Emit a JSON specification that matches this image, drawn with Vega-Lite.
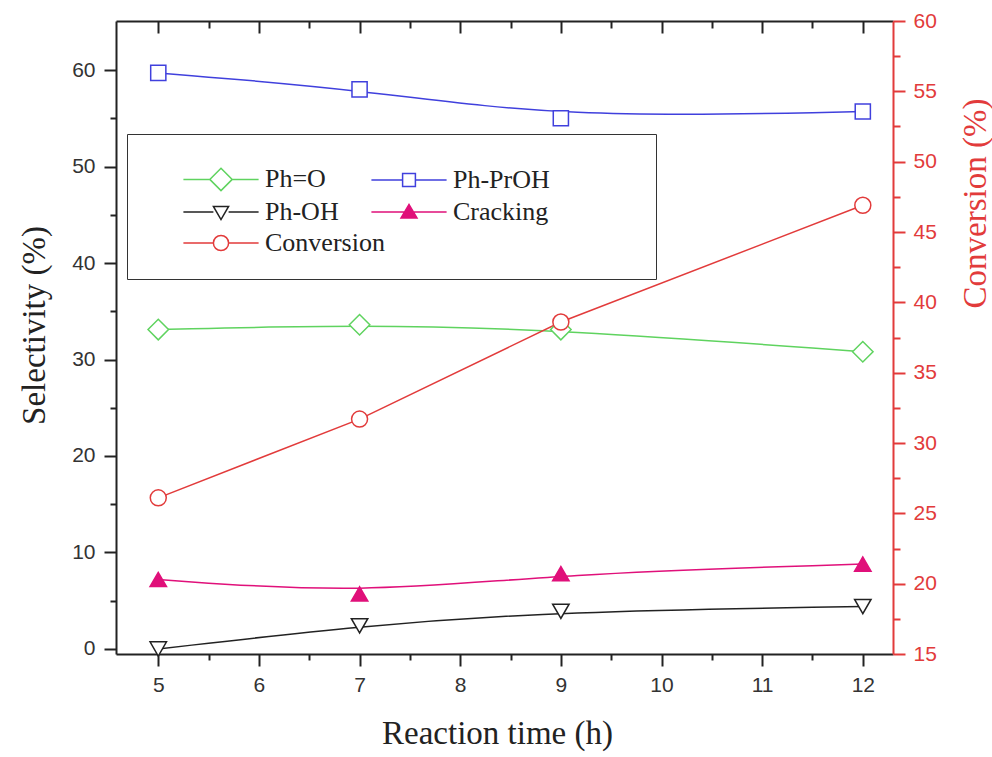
{
  "$schema": "https://vega.github.io/schema/vega-lite/v6.json",
  "width": 777,
  "height": 633,
  "autosize": {"type": "none"},
  "padding": {"left": 116, "top": 21, "right": 99, "bottom": 103},
  "background": "white",
  "config": {
    "view": {"stroke": null},
    "legend": {"labelFont": "Liberation Serif", "labelFontSize": 26, "labelColor": "#222222"},
    "axis": {
      "grid": false,
      "labelFont": "Liberation Sans",
      "labelFontSize": 21,
      "labelColor": "#333333",
      "titleFont": "Liberation Serif",
      "titleFontSize": 33,
      "titleFontWeight": "normal",
      "titleColor": "#222222",
      "domainColor": "#222222",
      "tickColor": "#222222",
      "domainWidth": 2,
      "tickWidth": 2
    }
  },
  "data": {
    "values": [
      {"t": 5, "series": "Ph=O", "value": 33.1},
      {"t": 7, "series": "Ph=O", "value": 33.6},
      {"t": 9, "series": "Ph=O", "value": 33.1},
      {"t": 12, "series": "Ph=O", "value": 30.8},
      {"t": 5, "series": "Ph-PrOH", "value": 59.7},
      {"t": 7, "series": "Ph-PrOH", "value": 58.0},
      {"t": 9, "series": "Ph-PrOH", "value": 55.0},
      {"t": 12, "series": "Ph-PrOH", "value": 55.7},
      {"t": 5, "series": "Ph-OH", "value": 0.0},
      {"t": 7, "series": "Ph-OH", "value": 2.4},
      {"t": 9, "series": "Ph-OH", "value": 3.9},
      {"t": 12, "series": "Ph-OH", "value": 4.4},
      {"t": 5, "series": "Cracking", "value": 7.2},
      {"t": 7, "series": "Cracking", "value": 5.7},
      {"t": 9, "series": "Cracking", "value": 7.8},
      {"t": 12, "series": "Cracking", "value": 8.8},
      {"t": 5, "series": "Conversion", "value": 26.1},
      {"t": 7, "series": "Conversion", "value": 31.7},
      {"t": 9, "series": "Conversion", "value": 38.6},
      {"t": 12, "series": "Conversion", "value": 46.9}
    ]
  },
  "resolve": {
    "scale": {"y": "independent"},
    "axis": {"x": "independent", "y": "independent"}
  },
  "layer": [
    {
      "transform": [{"filter": "datum.series !== 'Conversion'"}],
      "mark": {"type": "point", "opacity": 0},
      "encoding": {
        "x": {"field": "t", "type": "quantitative", "scale": {"domain": [4.58, 12.3], "nice": false, "zero": false},
          "axis": {"orient": "bottom", "values": [5.5, 6.5, 7.5, 8.5, 9.5, 10.5, 11.5], "tickSize": 6, "labels": false, "domain": false, "title": null}},
        "y": {"field": "value", "type": "quantitative", "scale": {"domain": [-0.52, 65.08], "nice": false, "zero": false},
          "axis": {"orient": "left", "values": [5, 15, 25, 35, 45, 55], "tickSize": 6, "labels": false, "domain": false, "title": null}}
      }
    },
    {
      "transform": [{"filter": "datum.series === 'Conversion'"}],
      "mark": {"type": "point", "opacity": 0},
      "encoding": {
        "x": {"field": "t", "type": "quantitative", "scale": {"domain": [4.58, 12.3], "nice": false, "zero": false},
          "axis": {"orient": "top", "values": [5.5, 6.5, 7.5, 8.5, 9.5, 10.5, 11.5], "tickSize": -7, "labels": false, "domain": false, "title": null}},
        "y": {"field": "value", "type": "quantitative", "scale": {"domain": [15, 60], "nice": false, "zero": false},
          "axis": {"orient": "right", "values": [17.5, 22.5, 27.5, 32.5, 37.5, 42.5, 47.5, 52.5, 57.5], "tickSize": 7, "tickColor": "#e23b3b", "labels": false, "domain": false, "title": null}}
      }
    },
    {
      "transform": [{"filter": "datum.series !== 'Conversion'"}],
      "mark": {"type": "line", "interpolate": "basis", "strokeWidth": 1.5},
      "encoding": {
        "x": {"field": "t", "type": "quantitative", "scale": {"domain": [4.58, 12.3], "nice": false, "zero": false},
          "axis": {"orient": "bottom", "values": [5, 6, 7, 8, 9, 10, 11, 12], "tickSize": 12, "labelPadding": 8,
            "title": "Reaction time (h)", "titleX": 381, "titleY": 89, "titleBaseline": "alphabetic", "titleAlign": "center"}},
        "y": {"field": "value", "type": "quantitative", "scale": {"domain": [-0.52, 65.08], "nice": false, "zero": false},
          "axis": {"orient": "left", "values": [0, 10, 20, 30, 40, 50, 60], "tickSize": 12, "labelPadding": 9,
            "title": "Selectivity (%)", "titleAngle": 270, "titleX": -72, "titleY": 304, "titleBaseline": "alphabetic", "titleAlign": "center"}},
        "color": {"field": "series", "type": "nominal",
          "scale": {"domain": ["Ph=O", "Ph-PrOH", "Ph-OH", "Cracking"], "range": ["#5fd35f", "#4040dd", "#222222", "#e0107a"]},
          "legend": {
            "orient": "none", "legendX": 11, "legendY": 113, "columns": 2, "direction": "horizontal",
            "title": "\u2800\u2800\u2800\u2800\u2800\u2800\u2800\u2800\u2800\u2800\u2800\u2800\u2800\u2800\u2800\u2800\u2800\u2800\u2800\u2800\u2800\u2800\u2800\u2800\u2800\u2800\u2800\u2800\u2800\u2800\u2800\u2800\u2800",
            "titleOrient": "bottom", "titleAnchor": "start", "titlePadding": 4, "titleLimit": 2000,
            "titleFont": "DejaVu Sans", "titleFontSize": 18, "titleColor": "#ffffff",
            "labelFont": "Liberation Serif", "labelFontSize": 26, "labelColor": "#222222",
            "symbolSize": 256, "symbolStrokeWidth": 1.5, "symbolOffset": 49, "labelOffset": 31,
            "rowPadding": 5, "columnPadding": 8, "padding": 32, "strokeColor": "#333333",
            "encoding": {
              "labels": {"font": {"value": "Liberation Serif"}},
              "symbols": {
                "shape": {"value": {"expr": "datum.value === 'Ph=O' ? 'M-4.7,0H-1.4M1.4,0H4.7M0,-1.4L1.4,0L0,1.4L-1.4,0Z' : datum.value === 'Ph-PrOH' ? 'M-4.7,0H-0.8M0.8,0H4.7M-0.8,-0.8H0.8V0.8H-0.8Z' : datum.value === 'Ph-OH' ? 'M-4.7,0H-0.95M0.95,0H4.7M-0.95,-0.7H0.95L0,0.95Z' : 'M-4.7,0H4.7M-1,0.75H1L0,-0.95Z'"}},
                "fill": {"value": {"expr": "datum.value === 'Cracking' ? '#e0107a' : '#ffffff'"}}
              }
            }
          }
        }
      }
    },
    {
      "transform": [{"filter": "datum.series === 'Conversion'"}],
      "mark": {"type": "line", "strokeWidth": 1.5},
      "encoding": {
        "x": {"field": "t", "type": "quantitative", "scale": {"domain": [4.58, 12.3], "nice": false, "zero": false},
          "axis": {"orient": "top", "values": [5, 6, 7, 8, 9, 10, 11, 12], "tickSize": -12, "labels": false, "domain": true, "title": null}},
        "y": {"field": "value", "type": "quantitative", "scale": {"domain": [15, 60], "nice": false, "zero": false},
          "axis": {"orient": "right", "values": [15, 20, 25, 30, 35, 40, 45, 50, 55, 60], "tickSize": 12, "labelPadding": 8,
            "labelColor": "#e23b3b", "domainColor": "#e23b3b", "tickColor": "#e23b3b",
            "title": "Conversion (%)", "titleColor": "#e23b3b", "titleAngle": 270, "titleX": 92, "titleY": 182, "titleBaseline": "alphabetic", "titleAlign": "center"}},
        "stroke": {"field": "series", "type": "nominal",
          "scale": {"domain": ["Conversion"], "range": ["#e23b3b"]},
          "legend": {
            "orient": "none", "legendX": 43, "legendY": 209, "title": null,
            "labelFont": "Liberation Serif", "labelFontSize": 26, "labelColor": "#222222",
            "symbolSize": 256, "symbolStrokeWidth": 1.5, "symbolOffset": 49, "labelOffset": 31,
            "padding": 0, "strokeColor": null,
            "encoding": {
              "labels": {"font": {"value": "Liberation Serif"}},
              "symbols": {
                "shape": {"value": "M-4.7,0H-0.95M0.95,0H4.7M-0.95,0A0.95,0.95 0 1,0 0.95,0A0.95,0.95 0 1,0 -0.95,0Z"},
                "fill": {"value": "#ffffff"}
              }
            }
          }
        }
      }
    },
    {
      "transform": [{"filter": "datum.series === 'Ph=O'"}],
      "mark": {"type": "point", "shape": "diamond", "size": 420, "strokeWidth": 1.5, "stroke": "#5fd35f", "fill": "#ffffff", "filled": true, "opacity": 1},
      "encoding": {
        "x": {"field": "t", "type": "quantitative", "scale": {"domain": [4.58, 12.3], "nice": false, "zero": false}, "axis": null},
        "y": {"field": "value", "type": "quantitative", "scale": {"domain": [-0.52, 65.08], "nice": false, "zero": false}, "axis": null}
      }
    },
    {
      "transform": [{"filter": "datum.series === 'Ph-PrOH'"}],
      "mark": {"type": "point", "shape": "square", "size": 230, "strokeWidth": 1.5, "stroke": "#4040dd", "fill": "#ffffff", "filled": true, "opacity": 1},
      "encoding": {
        "x": {"field": "t", "type": "quantitative", "scale": {"domain": [4.58, 12.3], "nice": false, "zero": false}, "axis": null},
        "y": {"field": "value", "type": "quantitative", "scale": {"domain": [-0.52, 65.08], "nice": false, "zero": false}, "axis": null}
      }
    },
    {
      "transform": [{"filter": "datum.series === 'Ph-OH'"}],
      "mark": {"type": "point", "shape": "triangle-down", "size": 270, "strokeWidth": 1.5, "stroke": "#222222", "fill": "#ffffff", "filled": true, "opacity": 1},
      "encoding": {
        "x": {"field": "t", "type": "quantitative", "scale": {"domain": [4.58, 12.3], "nice": false, "zero": false}, "axis": null},
        "y": {"field": "value", "type": "quantitative", "scale": {"domain": [-0.52, 65.08], "nice": false, "zero": false}, "axis": null}
      }
    },
    {
      "transform": [{"filter": "datum.series === 'Cracking'"}],
      "mark": {"type": "point", "shape": "triangle-up", "size": 270, "strokeWidth": 1.5, "stroke": "#e0107a", "fill": "#e0107a", "filled": true, "opacity": 1},
      "encoding": {
        "x": {"field": "t", "type": "quantitative", "scale": {"domain": [4.58, 12.3], "nice": false, "zero": false}, "axis": null},
        "y": {"field": "value", "type": "quantitative", "scale": {"domain": [-0.52, 65.08], "nice": false, "zero": false}, "axis": null}
      }
    },
    {
      "transform": [{"filter": "datum.series === 'Conversion'"}],
      "mark": {"type": "point", "shape": "circle", "size": 256, "strokeWidth": 1.5, "fill": "#ffffff", "stroke": "#e23b3b", "opacity": 1, "filled": true},
      "encoding": {
        "x": {"field": "t", "type": "quantitative", "scale": {"domain": [4.58, 12.3], "nice": false, "zero": false}, "axis": null},
        "y": {"field": "value", "type": "quantitative", "scale": {"domain": [15, 60], "nice": false, "zero": false}, "axis": null}
      }
    }
  ]
}
